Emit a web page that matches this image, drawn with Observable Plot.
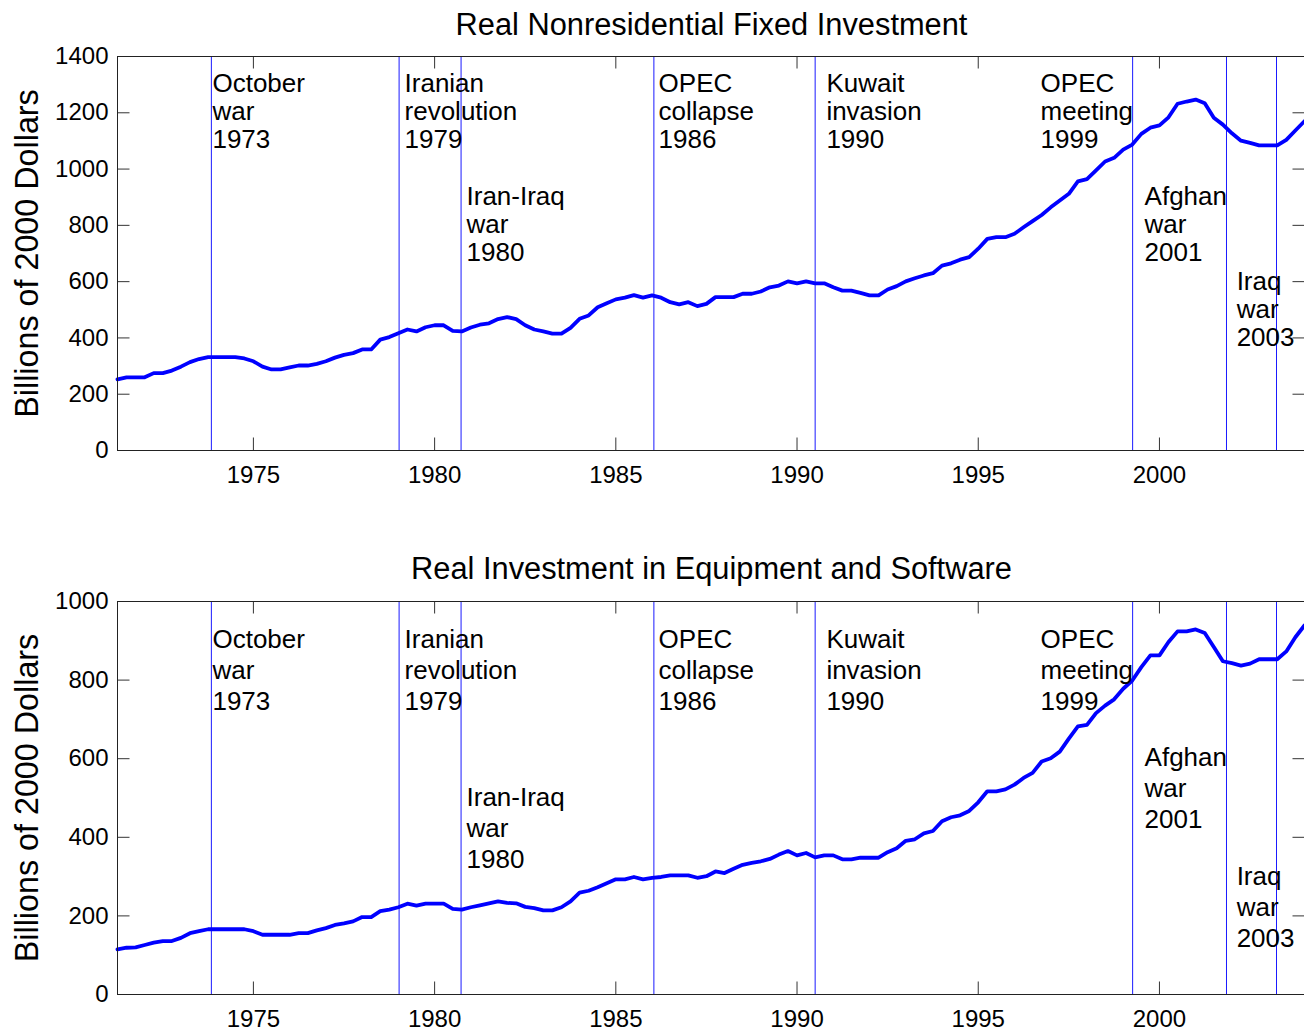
<!DOCTYPE html>
<html><head><meta charset="utf-8">
<script src="https://cdn.jsdelivr.net/npm/d3@7"></script>
<script src="https://cdn.jsdelivr.net/npm/@observablehq/plot@0.6"></script>
<style>
html,body{margin:0;padding:0;background:#fff;overflow:hidden;}
#chart{width:1312px}
svg{display:block}
</style></head><body><div id="chart"></div><script>
// Quarterly dates (date axis), 1971.25 ... 2004.0
const quarters = d3.range(132).map(i => 1971.25 + i * 0.25);

// Real Nonresidential Fixed Investment (billions of 2000 dollars)
const nonresidential = [
 253,260,260,260,275,275,284,298,314,325,332,332,332,332,327,317,
 298,288,288,295,302,302,308,317,330,340,346,359,359,394,403,417,
 430,423,438,445,445,425,423,437,447,452,467,474,467,445,430,423,
 415,415,436,468,480,509,523,537,543,552,543,551,543,527,519,527,
 513,521,545,545,545,557,557,565,580,586,601,594,601,594,594,580,
 568,568,560,551,551,572,584,601,612,622,630,657,665,678,687,717,
 752,758,758,770,793,815,837,864,888,912,956,964,995,1027,1040,1069,
 1087,1125,1147,1155,1184,1232,1240,1247,1234,1182,1158,1127,1101,1093,1084,1084,
 1084,1104,1137,1170
];

// Real Investment in Equipment and Software (billions of 2000 dollars)
const equipment = [
 115,119,120,126,132,136,136,144,156,161,166,166,166,166,166,161,
 152,152,152,152,156,156,163,169,177,181,186,197,197,212,216,222,
 231,226,231,231,231,218,216,222,227,232,237,233,232,223,220,214,
 214,222,237,259,264,273,283,293,293,299,293,297,299,303,303,303,
 297,301,313,309,320,330,335,339,345,356,365,354,360,349,354,354,
 344,344,348,348,348,362,372,391,395,410,416,441,451,456,467,489,
 517,517,522,534,551,564,593,601,618,651,682,686,716,735,751,778,
 799,833,863,863,897,924,924,929,920,884,848,843,837,842,853,853,
 853,873,909,939
];

// Event lines
const eventDates = [1973.84, 1979.02, 1980.73, 1986.05, 1990.5, 1999.26, 2001.85, 2003.23];
// Event labels and where they are placed
const eventLabels = [
 "October\nwar\n1973", "Iranian\nrevolution\n1979", "Iran-Iraq\nwar\n1980",
 "OPEC\ncollapse\n1986", "Kuwait\ninvasion\n1990", "OPEC\nmeeting\n1999",
 "Afghan\nwar\n2001", "Iraq\nwar\n2003"
];
const labelX = [1973.87, 1979.17, 1980.88, 1986.18, 1990.81, 1996.72, 1999.59, 2002.13];
const labelYTop = [1207, 1207, 803, 1207, 1207, 1207, 803, 503];
const labelYBottom = [829, 829, 426, 829, 829, 829, 528, 224];

const xTicks = [1975, 1980, 1985, 1990, 1995, 2000];
const yTicksTop = [0, 200, 400, 600, 800, 1000, 1200, 1400];
const yTicksBottom = [0, 200, 400, 600, 800, 1000];

const titles = ["Real Nonresidential Fixed Investment", "Real Investment in Equipment and Software"];
const yLabel = "Billions of 2000 Dollars";

function panel({title, values, yTicks, yMax, labelY, lineH, height, marginTop, marginBottom, titleDy}) {
  const W = 1312, ML = 117, MR = 7;
  const innerW = W - ML - MR;
  const innerH = height - marginTop - marginBottom;
  const tk = 12.5;
  const data = quarters.map((t, i) => ({t, v: values[i]}));
  const labels = eventLabels.map((s, i) => ({x: labelX[i], y: labelY[i], text: s}));
  return Plot.plot({
    width: W, height, marginLeft: ML, marginRight: MR, marginTop, marginBottom,
    style: {fontFamily: "'Liberation Sans', Arial, Helvetica, sans-serif", background: "white", overflow: "visible", color: "black"},
    x: {domain: [1971.25, 2004.03]},
    y: {domain: [0, yMax]},
    marks: [
      Plot.ruleX(eventDates, {x: d => d, stroke: "#1a1aff", strokeWidth: 1}),
      Plot.line(data, {x: "t", y: "v", stroke: "#0000ff", strokeWidth: 3.8, strokeLinejoin: "round"}),
      Plot.text(labels, {x: "x", y: "y", text: "text", textAnchor: "start", lineAnchor: "middle", lineHeight: lineH, fontSize: 26, fill: "black"}),
      Plot.ruleX(xTicks, {x: d => d, insetBottom: innerH - tk, stroke: "#333"}),
      Plot.ruleX(xTicks, {x: d => d, insetTop: innerH - tk, stroke: "#333"}),
      Plot.ruleY(yTicks, {y: d => d, insetRight: innerW - tk, stroke: "#333"}),
      Plot.ruleY(yTicks, {y: d => d, insetLeft: innerW - tk, stroke: "#333"}),
      Plot.frame({stroke: "#222", strokeWidth: 1}),
      Plot.axisX(xTicks, {tickSize: 0, tickPadding: 15, fontSize: 24, label: null, tickFormat: d => String(d)}),
      Plot.axisY(yTicks, {tickSize: 0, tickPadding: 9, fontSize: 24, label: null, tickFormat: d => String(d)}),
      Plot.text([title], {frameAnchor: "top", lineAnchor: "middle", dy: titleDy, fontSize: 30.8, text: d => d, fill: "black"}),
      Plot.text([yLabel], {frameAnchor: "left", textAnchor: "middle", lineAnchor: "middle", dx: -90, rotate: -90, fontSize: 32.3, text: d => d, fill: "black"})
    ]
  });
}

const chart = document.getElementById("chart");
chart.append(panel({title: titles[0], values: nonresidential, yTicks: yTicksTop, yMax: 1400, labelY: labelYTop, lineH: 1.077, height: 544, marginTop: 56, marginBottom: 94, titleDy: -31}));
chart.append(panel({title: titles[1], values: equipment, yTicks: yTicksBottom, yMax: 1000, labelY: labelYBottom, lineH: 1.19, height: 487, marginTop: 57, marginBottom: 37, titleDy: -32}));
</script></body></html>
